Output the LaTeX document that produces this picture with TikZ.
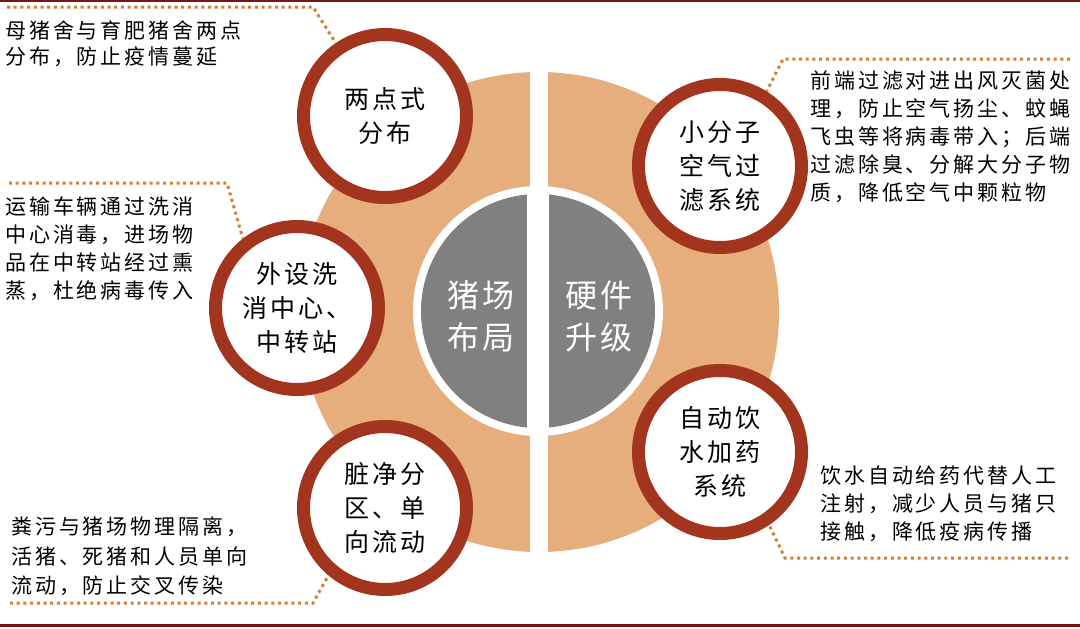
\documentclass[tikz,border=0pt]{standalone}
\usepackage{fontspec}
\newfontfamily\descfont[LetterSpace=14]{Noto Sans CJK SC}
\newfontfamily\circfont[LetterSpace=12]{Noto Sans CJK SC}
\newfontfamily\bigfont[LetterSpace=9]{Noto Sans CJK SC}
\definecolor{peach}{RGB}{230,174,124}
\definecolor{midgray}{RGB}{128,128,128}
\definecolor{ringred}{RGB}{163,52,30}
\definecolor{dotorange}{RGB}{212,126,52}
\definecolor{borderred}{RGB}{120,22,22}
\tikzset{
  ringnode/.style={circle, draw=ringred, line width=13pt, fill=white,
    minimum size=163pt, inner sep=0pt, align=center,
    font=\circfont\fontsize{25}{34}\selectfont, text=black},
  desc/.style={anchor=north west, inner sep=0pt, align=left,
    font=\descfont\fontsize{21}{28}\selectfont, text=black},
  bigtxt/.style={inner sep=0pt, align=center, text=white,
    font=\bigfont\fontsize{32}{42}\selectfont},
  dotline/.style={draw=dotorange, line width=3pt, dash pattern=on 3pt off 3.7pt},
  borderline/.style={draw=borderred, line width=2.2pt}
}
\begin{document}
\begin{tikzpicture}[x=1pt,y=-1pt]
\useasboundingbox (0,0) rectangle (1080,629);
\fill[white] (0,0) rectangle (1080,629);
% top and bottom rules
\draw[borderline] (0,1.1) -- (1080,1.1);
\draw[borderline] (0,625.5) -- (1080,625.5);
% big disc split in two
\fill[peach] (539,312) circle (240pt);
\fill[white] (529.5,60) rectangle (547.5,566);
\fill[white] (538,311) circle (125pt);
\fill[midgray] (538,311) circle (117pt);
\fill[white] (527,192) rectangle (549,430);
\node[bigtxt] (layout) at (481,316) {猪场\\布局};
\node[bigtxt] (hardware) at (599,316) {硬件\\升级};
% ring nodes
\node[ringnode] (c1) at (385,116) {两点式\\分布};
\node[ringnode] (c2) at (297,308) {外设洗\\消中心、\\中转站};
\node[ringnode] (c3) at (385,508) {脏净分\\区、单\\向流动};
\node[ringnode] (c4) at (720,166) {小分子\\空气过\\滤系统};
\node[ringnode] (c5) at (720,452) {自动饮\\水加药\\系统};
% descriptions
\node[desc] (d1) at (5,21) {母猪舍与育肥猪舍两点\\[-2pt]分布，防止疫情蔓延};
\node[desc] (d2) at (5,197) {运输车辆通过洗消\\中心消毒，进场物\\品在中转站经过熏\\蒸，杜绝病毒传入};
\node[desc] (d3) at (11,517) {粪污与猪场物理隔离，\\[1.5pt]活猪、死猪和人员单向\\[1.5pt]流动，防止交叉传染};
\node[desc] (d4) at (810,71) {前端过滤对进出风灭菌处\\理，防止空气扬尘、蚊蝇\\飞虫等将病毒带入；后端\\过滤除臭、分解大分子物\\质，降低空气中颗粒物};
\node[desc] (d5) at (820,466) {饮水自动给药代替人工\\注射，减少人员与猪只\\接触，降低疫病传播};
% dotted connectors
\coordinate (s1) at (7,7);
\coordinate (s2) at (9,183);
\coordinate (s3) at (10,603);
\coordinate (s4) at (1070,59);
\coordinate (s5) at (1068,558);
\draw[dotline] (s1) -- ++(306,0) -- (c1.124);
\draw[dotline] (s2) -- ++(218,0) -- (c2.128);
\draw[dotline] (s3) -- ++(303,0) -- (c3.230);
\draw[dotline] (s4) -- ++(-287,0) -- (c4.58);
\draw[dotline] (s5) -- ++(-283,0) -- (c5.-56);
\end{tikzpicture}
\end{document}
